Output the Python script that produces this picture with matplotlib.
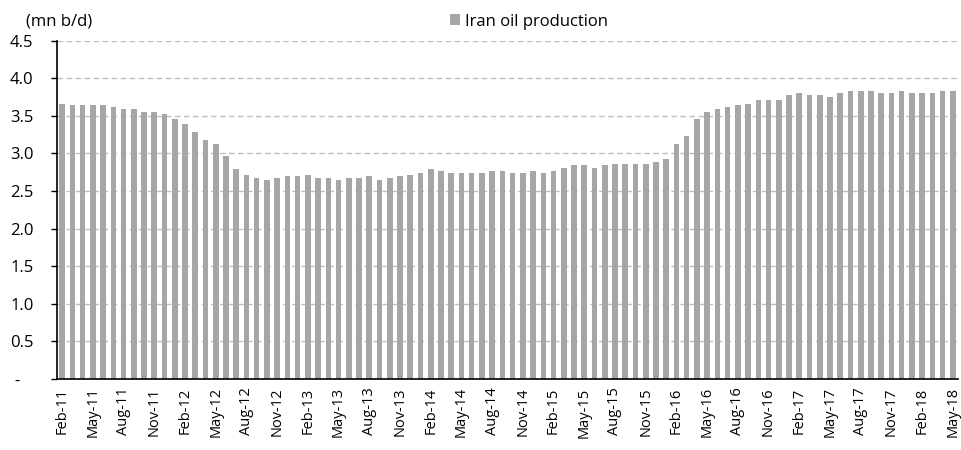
import matplotlib
matplotlib.use("Agg")
import matplotlib.pyplot as plt
import numpy as np

plt.rcParams['font.family'] = ['Open Sans', 'DejaVu Sans']

months = ["Jan", "Feb", "Mar", "Apr", "May", "Jun", "Jul", "Aug", "Sep", "Oct", "Nov", "Dec"]

# Monthly periods Feb-11 .. May-18
periods = []
y, m = 2011, 1
while (y, m) <= (2018, 4):
    periods.append(f"{months[m]}-{str(y)[2:]}")
    m += 1
    if m == 12:
        m = 0
        y += 1

production = [
    3.66, 3.64, 3.64, 3.64, 3.64, 3.62, 3.59, 3.59, 3.55, 3.55, 3.52, 3.46,
    3.39, 3.29, 3.18, 3.13, 2.96, 2.79, 2.72, 2.67, 2.65, 2.67, 2.70, 2.70,
    2.72, 2.67, 2.67, 2.65, 2.67, 2.67, 2.70, 2.65, 2.67, 2.70, 2.72, 2.74,
    2.79, 2.77, 2.74, 2.74, 2.74, 2.74, 2.77, 2.77, 2.74, 2.74, 2.77, 2.74,
    2.77, 2.81, 2.84, 2.84, 2.81, 2.84, 2.86, 2.86, 2.86, 2.86, 2.88, 2.93,
    3.13, 3.23, 3.46, 3.55, 3.59, 3.62, 3.64, 3.66, 3.71, 3.71, 3.71, 3.78,
    3.80, 3.78, 3.78, 3.75, 3.80, 3.83, 3.83, 3.83, 3.80, 3.80, 3.83, 3.80,
    3.80, 3.80, 3.83, 3.83,
]

y_ticks = [0, 0.5, 1.0, 1.5, 2.0, 2.5, 3.0, 3.5, 4.0, 4.5]
y_tick_labels = ["-   ", "0.5", "1.0", "1.5", "2.0", "2.5", "3.0", "3.5", "4.0", "4.5"]

W, H = 962, 450
fig = plt.figure(figsize=(W / 100, H / 100), dpi=100)
ax = fig.add_axes([0.0593, 0.1578, 0.9365, 0.7518])

x = np.arange(len(production))
ax.bar(x, production, width=0.55, color="#a6a6a6", label="Iran oil production", zorder=3)

ax.set_xlim(-0.5, len(production) - 0.5)
ax.set_ylim(0, 4.5)
ax.set_yticks(y_ticks)
ax.set_yticklabels(y_tick_labels, fontsize=12)
ax.set_xticks(x[::3])
ax.set_xticklabels(periods[::3], rotation=90, fontsize=10.5)
ax.tick_params(axis="x", length=0, pad=6)
ax.tick_params(axis="y", length=4, width=1, direction="out", pad=13)

for yv in y_ticks[1:]:
    ax.axhline(yv, color="#bfbfbf", linewidth=1, linestyle=(0, (4, 2.5)), zorder=1)

for side in ["top", "right"]:
    ax.spines[side].set_visible(False)
for side in ["left", "bottom"]:
    ax.spines[side].set_color("black")
    ax.spines[side].set_linewidth(1.2)
ax.spines["bottom"].set_zorder(4)

fig.text(26 / W, 1 - 21 / H, "(mn b/d)", fontsize=12, va="center", ha="left")

fig.legend(*ax.get_legend_handles_labels(), loc="center left",
           bbox_to_anchor=(450 / W, 1 - 21.5 / H), frameon=False,
           fontsize=12, handlelength=0.6, handleheight=0.6, handletextpad=0.3,
           borderaxespad=0, borderpad=0)

fig.savefig("out.png", dpi=100)
